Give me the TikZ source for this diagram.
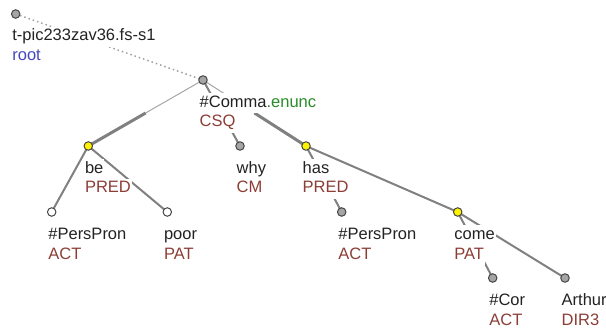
\documentclass[tikz,border=0pt]{standalone}
\usepackage{fontspec}
\setmainfont{Liberation Sans}
\usetikzlibrary{calc}
\definecolor{fnc}{RGB}{140,62,54}
\definecolor{rootblue}{RGB}{70,70,190}
\definecolor{enuncgreen}{RGB}{40,140,40}
\definecolor{edgegray}{RGB}{128,128,128}
\definecolor{nodegray}{RGB}{165,165,165}
\definecolor{nodeline}{RGB}{70,70,70}
\definecolor{txt}{RGB}{35,35,35}
\pgfdeclarelayer{edges}
\pgfdeclarelayer{labels}
\pgfsetlayers{edges,labels,main}
\tikzset{
  tn/.style={circle, minimum size=8.5pt, inner sep=0pt, draw=nodeline, line width=1pt},
  gn/.style={tn, fill=nodegray},
  yn/.style={tn, fill=yellow},
  wn/.style={tn, fill=white},
  lbl/.style={anchor=base west, fill=white, text=txt, inner xsep=1pt, inner ysep=0pt,
              text height=14pt, text depth=6pt, font=\fontsize{16.5}{20}\selectfont},
  fn/.style={lbl, text=fnc},
  edge/.style={draw=edgegray, line width=2pt},
  thinedge/.style={draw=edgegray!70, line width=1pt},
  memedge/.style={draw=edgegray, line width=3pt},
  rootedge/.style={draw=edgegray!75, line width=1.5pt, dash pattern=on 1.5pt off 3pt}
}
\begin{document}
\begin{tikzpicture}[x=1pt,y=-1pt]
\useasboundingbox (0,0) rectangle (606,329);
% tree nodes
\node[gn] (root) at (15.7,14) {};
\node[gn] (c) at (203,80) {};
\node[yn] (be) at (88.3,146) {};
\node[gn] (why) at (240,146) {};
\node[yn] (has) at (306,146) {};
\node[wn] (pp1) at (51.7,212) {};
\node[wn] (poor) at (167.3,212) {};
\node[gn] (pp2) at (341.7,212) {};
\node[yn] (come) at (457.7,212) {};
\node[gn] (cor) at (492.7,278) {};
\node[gn] (arthur) at (565,278) {};
% labels
\begin{pgfonlayer}{labels}
\node[lbl] (rootA) at (11.2,41) {t-pic233zav36.fs-s1};
\node[lbl, text=rootblue] (rootB) at (11.2,61) {root};
\node[lbl] (cA) at (198.5,107) {\#Comma\textcolor{enuncgreen}{.enunc}};
\node[fn] (cB) at (198.5,127) {CSQ};
\node[lbl] (beA) at (83.8,173) {be};
\node[fn] (beB) at (83.8,193) {PRED};
\node[lbl] (whyA) at (235.5,173) {why};
\node[fn] (whyB) at (235.5,193) {CM};
\node[lbl] (hasA) at (301.5,173) {has};
\node[fn] (hasB) at (301.5,193) {PRED};
\node[lbl] (pp1A) at (47.2,239) {\#PersPron};
\node[fn] (pp1B) at (47.2,259) {ACT};
\node[lbl] (poorA) at (162.8,239) {poor};
\node[fn] (poorB) at (162.8,259) {PAT};
\node[lbl] (pp2A) at (337.2,239) {\#PersPron};
\node[fn] (pp2B) at (337.2,259) {ACT};
\node[lbl] (comeA) at (453.2,239) {come};
\node[fn] (comeB) at (453.2,259) {PAT};
\node[lbl] (corA) at (488.2,305) {\#Cor};
\node[fn] (corB) at (488.2,325) {ACT};
\node[lbl] (arthurA) at (560.5,305) {Arthur};
\node[fn] (arthurB) at (560.5,325) {DIR3};
\end{pgfonlayer}
% edges
\begin{pgfonlayer}{edges}
\draw[rootedge] (root.center) -- (c.center);
\path (c.center) -- (be.center) coordinate[pos=0.5] (mbe);
\draw[thinedge] (c.center) -- (mbe);
\draw[memedge] (mbe) -- (be.center);
\path (c.center) -- (has.center) coordinate[pos=0.5] (mhas);
\draw[thinedge] (c.center) -- (mhas);
\draw[memedge] (mhas) -- (has.center);
\draw[edge] (c.center) -- (why.center);
\draw[edge] (be.center) -- (pp1.center);
\draw[edge] (be.center) -- (poor.center);
\draw[edge] (has.center) -- (pp2.center);
\draw[edge] (has.center) -- (come.center);
\draw[edge] (come.center) -- (cor.center);
\draw[edge] (come.center) -- (arthur.center);
\end{pgfonlayer}
\end{tikzpicture}
\end{document}
